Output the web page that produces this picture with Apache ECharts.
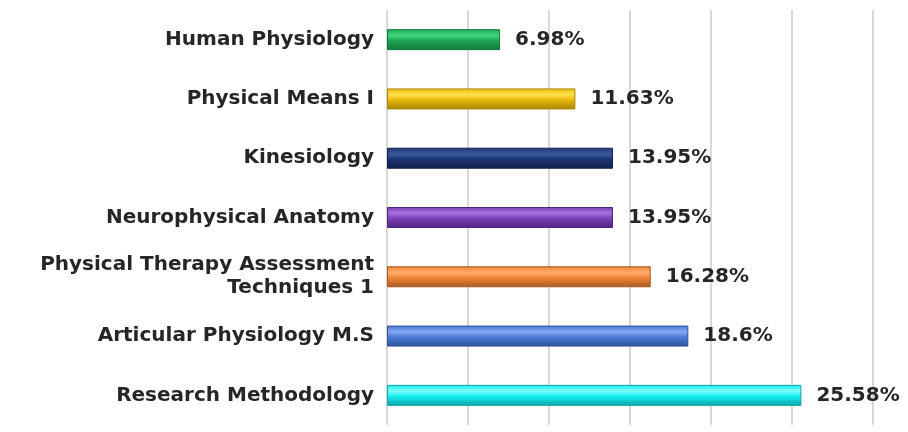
<!DOCTYPE html>
<html>
<head>
<meta charset="utf-8">
<script src="https://cdn.jsdelivr.net/npm/echarts@6/dist/echarts.min.js"></script>
<style>
  html, body { margin: 0; padding: 0; background: #fff; }
  #main { width: 908px; height: 432px; }
</style>
</head>
<body>
<div id="main"></div>
<script>
// top to bottom, as shown
const courses = [
  'Human Physiology',
  'Physical Means I',
  'Kinesiology',
  'Neurophysical Anatomy',
  'Physical Therapy Assessment\nTechniques 1',
  'Articular Physiology M.S',
  'Research Methodology'
];
const percents = [6.98, 11.63, 13.95, 13.95, 16.28, 18.6, 25.58];
const barColors = [
  ['#3fd97e', '#1fa552', '#137a3a'],
  ['#ffe14a', '#e8b80c', '#a98608'],
  ['#3b5a9e', '#1c3572', '#0f1f48'],
  ['#a672e0', '#7a3fb8', '#4f2580'],
  ['#ffac6a', '#ef8436', '#a85a22'],
  ['#82a8f0', '#4b7bd6', '#2d5099'],
  ['#7ffcff', '#13ecef', '#0fa5a8']
];

const chart = echarts.init(document.getElementById('main'));

const barData = percents.map((v, i) => ({
  value: v,
  itemStyle: {
    color: new echarts.graphic.LinearGradient(0, 0, 0, 1, [
      { offset: 0, color: barColors[i][1] },
      { offset: 0.3, color: barColors[i][0] },
      { offset: 0.55, color: barColors[i][1] },
      { offset: 1, color: barColors[i][2] }
    ]),
    borderColor: barColors[i][2],
    borderWidth: 1
  }
}));

chart.setOption({
  animation: false,
  grid: { left: 387, right: 35, top: 10, bottom: 7, containLabel: false },
  xAxis: {
    type: 'value',
    min: 0,
    max: 30,
    interval: 5,
    axisLabel: { show: false },
    axisLine: { show: false },
    axisTick: { show: false },
    splitLine: { show: true, lineStyle: { color: '#d9d9d9', width: 2 } }
  },
  yAxis: {
    type: 'category',
    inverse: true,
    data: courses,
    axisLine: { show: false },
    axisTick: { show: false },
    axisLabel: {
      color: '#262626',
      fontFamily: 'DejaVu Sans',
      fontWeight: 'bold',
      fontSize: 20,
      lineHeight: 23,
      margin: 13,
      align: 'right'
    }
  },
  series: [{
    type: 'bar',
    data: barData,
    barWidth: 21,
    label: {
      show: true,
      position: 'right',
      distance: 15,
      formatter: p => p.value + '%',
      color: '#262626',
      fontFamily: 'DejaVu Sans',
      fontWeight: 'bold',
      fontSize: 20
    }
  }]
});
</script>
</body>
</html>
